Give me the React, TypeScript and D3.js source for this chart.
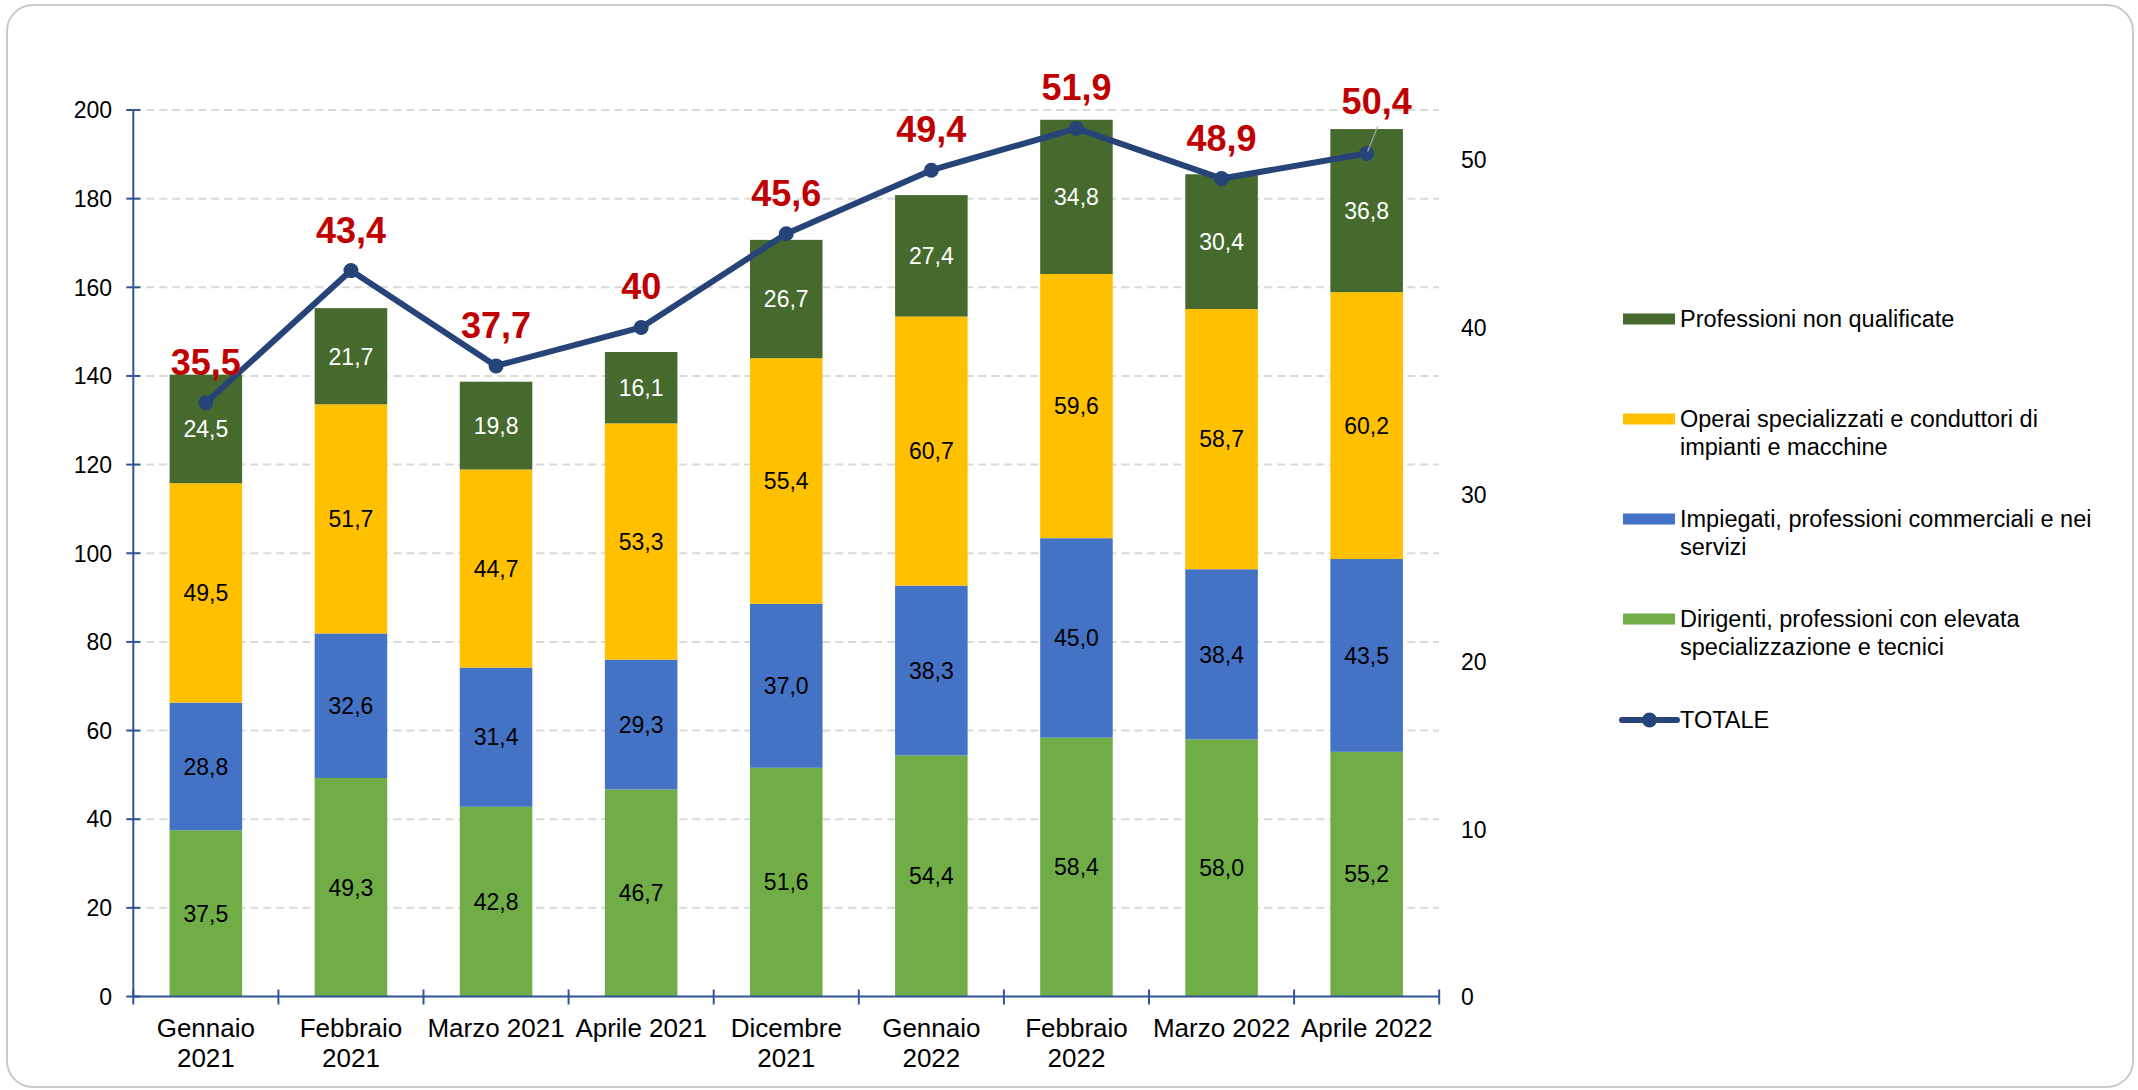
import React from "react";
import * as d3 from "d3";

const categories = [
  "Gennaio\n2021",
  "Febbraio\n2021",
  "Marzo 2021",
  "Aprile 2021",
  "Dicembre\n2021",
  "Gennaio\n2022",
  "Febbraio\n2022",
  "Marzo 2022",
  "Aprile 2022",
];

const dirigenti = [37.5, 49.3, 42.8, 46.7, 51.6, 54.4, 58.4, 58.0, 55.2];
const impiegati = [28.8, 32.6, 31.4, 29.3, 37.0, 38.3, 45.0, 38.4, 43.5];
const operai = [49.5, 51.7, 44.7, 53.3, 55.4, 60.7, 59.6, 58.7, 60.2];
const nonQualificate = [24.5, 21.7, 19.8, 16.1, 26.7, 27.4, 34.8, 30.4, 36.8];
const totale = [35.5, 43.4, 37.7, 40, 45.6, 49.4, 51.9, 48.9, 50.4];

const leftTicks = [0, 20, 40, 60, 80, 100, 120, 140, 160, 180, 200];
const rightTicks = [0, 10, 20, 30, 40, 50];

const seriesNames = [
  "Dirigenti, professioni con elevata\nspecializzazione e tecnici",
  "Impiegati, professioni commerciali e nei\nservizi",
  "Operai specializzati e conduttori di\nimpianti e macchine",
  "Professioni non qualificate",
];
const seriesColors = ["#70AD47", "#4472C4", "#FFC000", "#466A2E"];
const seriesLabelColors = ["#000000", "#000000", "#000000", "#FFFFFF"];
const totaleName = "TOTALE";

const FONT = "'Liberation Sans', Arial, sans-serif";

export default function App() {
  const W = 2138;
  const H = 1090;
  const plotLeft = 133.3;
  const plotRight = 1439.2;
  const plotTop = 110;
  const plotBottom = 996.5;

  const x = d3
    .scaleBand<string>()
    .domain(categories)
    .range([plotLeft, plotRight])
    .paddingInner(0.5)
    .paddingOuter(0.25);
  const y = d3.scaleLinear().domain([0, 200]).range([plotBottom, plotTop]);
  const y2 = d3.scaleLinear().domain([0, 53]).range([plotBottom, plotTop]);

  const seriesData = [dirigenti, impiegati, operai, nonQualificate];
  const rows = categories.map((c, i) => ({
    cat: c,
    s0: dirigenti[i],
    s1: impiegati[i],
    s2: operai[i],
    s3: nonQualificate[i],
  }));
  const stack = d3.stack<any>().keys(["s0", "s1", "s2", "s3"]);
  const stacked = stack(rows);

  const fmt1 = (v: number) => d3.format(".1f")(v).replace(".", ",");
  const fmtG = (v: number) => String(v).replace(".", ",");

  const line = d3
    .line<number>()
    .x((_, i) => (x(categories[i]) as number) + x.bandwidth() / 2)
    .y((d) => y2(d));

  const step = x.step();
  const boundaries = d3.range(categories.length + 1).map((i) => plotLeft + i * step);

  const legendItems = [3, 2, 1, 0];
  const legendX = 1622;
  const legendSwatchW = 53;
  const legendTextX = 1680;
  const legendTop = 319;
  const legendGap = 100;

  return (
    <svg
      width={W}
      height={H}
      style={{ position: "absolute", left: 0, top: 0, background: "#fff" }}
      fontFamily={FONT}
    >
      <rect x={0} y={0} width={W} height={H} fill="#fff" />
      <rect
        x={7}
        y={5}
        width={W - 12}
        height={H - 8}
        rx={26}
        ry={26}
        fill="#fff"
        stroke="#C9C9C9"
        strokeWidth={2}
      />

      {/* gridlines */}
      {leftTicks
        .filter((t) => t > 0)
        .map((t) => (
          <line
            key={"g" + t}
            x1={plotLeft}
            x2={plotRight}
            y1={y(t)}
            y2={y(t)}
            stroke="#D9D9D9"
            strokeWidth={2}
            strokeDasharray="8,5"
          />
        ))}

      {/* bars */}
      {stacked.map((layer, si) =>
        layer.map((d, i) => (
          <rect
            key={"b" + si + "-" + i}
            x={x(categories[i])}
            y={y(d[1])}
            width={x.bandwidth()}
            height={y(d[0]) - y(d[1])}
            fill={seriesColors[si]}
          />
        ))
      )}

      {/* bar labels */}
      {stacked.map((layer, si) =>
        layer.map((d, i) => (
          <text
            key={"bl" + si + "-" + i}
            x={(x(categories[i]) as number) + x.bandwidth() / 2}
            y={y((d[0] + d[1]) / 2)}
            dy="0.36em"
            textAnchor="middle"
            fontSize={23}
            fill={seriesLabelColors[si]}
          >
            {fmt1(seriesData[si][i])}
          </text>
        ))
      )}

      {/* left axis */}
      <line x1={plotLeft} x2={plotLeft} y1={plotTop} y2={plotBottom} stroke="#2F5597" strokeWidth={2} />
      {leftTicks.map((t) => (
        <g key={"lt" + t}>
          <line x1={plotLeft - 7} x2={plotLeft + 7} y1={y(t)} y2={y(t)} stroke="#2F5597" strokeWidth={2} />
          <text x={112} y={y(t)} dy="0.36em" textAnchor="end" fontSize={23} fill="#000">
            {t}
          </text>
        </g>
      ))}

      {/* right axis labels */}
      {rightTicks.map((t) => (
        <text key={"rt" + t} x={1461} y={y2(t)} dy="0.36em" textAnchor="start" fontSize={23} fill="#000">
          {t}
        </text>
      ))}

      {/* x axis */}
      <line x1={plotLeft} x2={plotRight} y1={plotBottom} y2={plotBottom} stroke="#2F5597" strokeWidth={2} />
      {boundaries.map((bx, i) => (
        <line key={"xt" + i} x1={bx} x2={bx} y1={plotBottom - 7} y2={plotBottom + 8} stroke="#2F5597" strokeWidth={2} />
      ))}
      {categories.map((c) => {
        const lines = c.split("\n");
        const cx = (x(c) as number) + x.bandwidth() / 2;
        return (
          <text key={"xl" + c} x={cx} y={1037} textAnchor="middle" fontSize={26} fill="#000">
            {lines.map((l, li) => (
              <tspan key={li} x={cx} dy={li === 0 ? 0 : 29.5}>
                {l}
              </tspan>
            ))}
          </text>
        );
      })}

      {/* totale line */}
      <path d={line(totale) || ""} fill="none" stroke="#264478" strokeWidth={6} strokeLinejoin="round" />
      {totale.map((v, i) => (
        <circle
          key={"dot" + i}
          cx={(x(categories[i]) as number) + x.bandwidth() / 2}
          cy={y2(v)}
          r={7.5}
          fill="#264478"
        />
      ))}
      {totale.map((v, i) => {
        const cx = (x(categories[i]) as number) + x.bandwidth() / 2;
        const cy = y2(v);
        const shifted = i === totale.length - 1;
        const dx = shifted ? 10 : 0;
        const dy = shifted ? -39 : -28;
        return (
          <g key={"tl" + i}>
            {shifted && (
              <line x1={cx + 11} y1={cy - 27} x2={cx + 1} y2={cy - 2} stroke="#A6A6A6" strokeWidth={1.2} />
            )}
            <text
              x={cx + dx}
              y={cy + dy}
              textAnchor="middle"
              fontSize={36}
              fontWeight="bold"
              fill="#C00000"
            >
              {fmtG(v)}
            </text>
          </g>
        );
      })}

      {/* legend */}
      {legendItems.map((si, k) => {
        const cy = legendTop + k * legendGap;
        const lines = seriesNames[si].split("\n");
        return (
          <g key={"lg" + si}>
            <rect x={legendX + 1} y={cy - 5.5} width={legendSwatchW - 1} height={11} fill={seriesColors[si]} />
            <text x={legendTextX} y={cy + 8} fontSize={23.5} fill="#000">
              {lines.map((l, li) => (
                <tspan key={li} x={legendTextX} dy={li === 0 ? 0 : 27.7}>
                  {l}
                </tspan>
              ))}
            </text>
          </g>
        );
      })}
      {(() => {
        const cy = legendTop + 4 * legendGap + 1;
        return (
          <g>
            <line x1={legendX} x2={legendX + 55} y1={cy} y2={cy} stroke="#264478" strokeWidth={6} strokeLinecap="round" />
            <circle cx={legendX + 27.5} cy={cy} r={7.5} fill="#264478" />
            <text x={legendTextX} y={cy + 8} fontSize={23.5} fill="#000">
              {totaleName}
            </text>
          </g>
        );
      })()}
    </svg>
  );
}
